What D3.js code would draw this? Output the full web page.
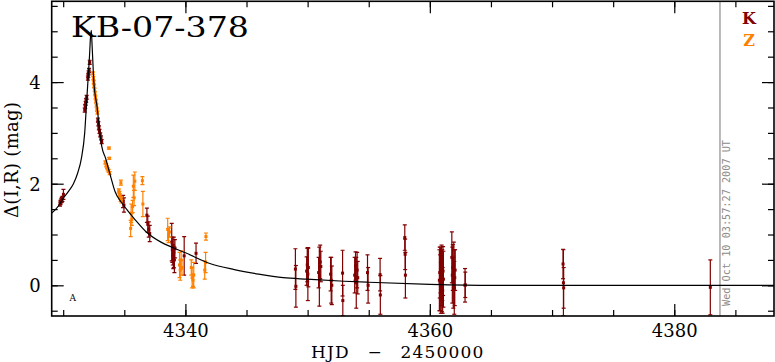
<!DOCTYPE html>
<html><head><meta charset="utf-8">
<script src="https://cdn.jsdelivr.net/npm/d3@7"></script>
<style>body{margin:0;background:#fff}svg{display:block}</style>
</head><body>
<svg id="c" width="775" height="362"></svg>
<script>
// ---------- DATA ----------
const titleText = "KB-07-378";
const xLabelText = "HJD \u2212 2450000";
const yLabelText = "\u0394(I,R) (mag)";
const stampText = "Wed Oct 10 03:57:27 2007 UT";
const seriesNames = ["K", "Z"];

const xMajorTicks = [4340, 4360, 4380];
const xTickLabels = ["4340", "4360", "4380"];
const xMinorTicks = [4330, 4335, 4340, 4345, 4350, 4355, 4360, 4365, 4370, 4375, 4380, 4385];
const yMajorTicks = [0, 2, 4];
const yTickLabels = ["0", "2", "4"];
const yMinorTicks = [-0.5, 0, 0.5, 1, 1.5, 2, 2.5, 3, 3.5, 4, 4.5, 5, 5.5];
const nowLineT = 4383.74;

// K (dark red)
const kT = [4329.74,4329.78,4329.83,4329.88,4329.94,4330.02,
  4331.76,4331.80,4331.84,4331.88,4331.92,4332.02,4332.05,4332.08,4332.11,4332.17,
  4332.84,4332.88,4332.92,4332.97,4333.03,4333.09,4333.15,
  4334.90,4334.97,4336.85,4336.92,4337.00,4337.08,
  4338.88,4338.93,4338.97,4339.01,4339.05,4339.10,4339.14,4339.90,4340.87,
  4349.00,4349.04,4349.92,4349.97,4350.02,4350.06,4350.90,4350.96,4351.03,4351.08,
  4351.88,4351.93,4351.98,4352.86,4352.88,4353.85,4353.92,4353.98,4354.05,4354.10,
  4354.90,4354.95,4355.93,4355.95,4357.95,4357.98,4358.00,
  4360.78,4360.81,4360.84,4360.87,4360.90,4360.93,4360.96,4360.99,4361.02,4361.05,4361.08,4361.11,
  4361.80,4361.84,4361.88,4361.92,4361.96,4362.00,4362.04,4362.07,
  4362.88,4362.90,4370.90,4370.93,4370.95,4382.95];
const kMag = [1.60,1.63,1.66,1.68,1.70,1.79,
  3.45,3.52,3.58,3.64,3.70,4.08,4.13,4.18,4.23,4.39,
  3.25,3.18,3.10,3.03,2.96,2.90,2.83,
  1.65,1.58,1.38,1.20,1.10,1.02,
  0.85,0.70,0.60,0.55,0.65,0.50,0.72,0.58,0.63,
  0.32,-0.02,0.28,0.40,0.22,0.35,0.25,0.17,0.46,0.37,
  0.22,0.10,0.00,0.24,-0.30,0.20,0.38,0.05,0.30,0.15,
  0.25,0.00,0.21,-0.19,0.94,0.61,0.20,
  0.10,0.25,0.05,0.30,-0.05,0.15,0.35,0.00,0.20,-0.10,0.28,0.12,
  0.55,0.20,0.35,0.05,0.40,-0.05,0.15,0.30,
  0.00,0.01,0.42,0.05,-0.05,-0.04];
const kErr = [0.04,0.04,0.04,0.05,0.05,0.10,
  0.04,0.04,0.04,0.04,0.04,0.04,0.04,0.04,0.04,0.04,
  0.04,0.04,0.04,0.04,0.04,0.04,0.04,
  0.12,0.14,0.14,0.16,0.15,0.16,
  0.37,0.25,0.20,0.22,0.30,0.25,0.18,0.38,0.20,
  0.40,0.41,0.28,0.33,0.52,0.38,0.30,0.58,0.33,0.30,
  0.33,0.45,0.38,0.45,0.30,0.35,0.28,0.50,0.35,0.32,
  0.35,0.35,0.32,0.38,0.25,0.30,0.45,
  0.60,0.50,0.55,0.45,0.50,0.55,0.44,0.52,0.50,0.45,0.48,0.55,
  0.50,0.55,0.45,0.50,0.45,0.52,0.55,0.40,
  0.33,0.25,0.29,0.65,0.40,0.54];

// Z (orange)
const zT = [4332.43,4332.47,4332.50,4332.53,4332.57,4332.60,4332.64,4332.68,4332.72,4332.76,4332.80,
  4333.45,4333.52,4333.58,4333.65,4333.72,4333.80,4333.74,4333.77,
  4334.55,4334.60,4334.65,4334.70,4334.76,4334.72,
  4335.52,4335.56,4335.62,4335.68,4335.74,4335.80,4335.86,4336.48,4336.52,
  4338.55,4338.62,4338.70,4339.52,4339.58,4339.65,4339.72,
  4340.48,4340.55,4340.62,4340.68,4341.58,4341.65,4341.68];
const zMag = [4.17,4.08,4.00,3.92,3.85,3.78,3.70,3.62,3.54,3.46,3.40,
  2.42,2.36,2.32,2.28,2.25,2.21,2.70,2.50,
  1.86,1.80,1.75,1.70,1.67,2.02,
  1.12,1.42,1.30,1.55,1.95,1.72,2.05,2.06,1.60,
  1.10,0.98,1.05,0.40,0.30,0.50,0.35,
  0.35,0.15,0.10,0.20,0.30,0.45,0.96];
const zErr = [0.03,0.03,0.03,0.03,0.03,0.03,0.03,0.03,0.03,0.03,0.03,
  0.03,0.03,0.03,0.03,0.03,0.03,0.02,0.02,
  0.04,0.05,0.05,0.05,0.05,0.05,
  0.16,0.18,0.12,0.12,0.22,0.15,0.18,0.08,0.25,
  0.22,0.14,0.10,0.25,0.20,0.18,0.15,
  0.15,0.20,0.12,0.25,0.18,0.20,0.07];

// model curve
const modelT = [4329.06,4329.4,4329.75,4330.0,4330.4,4330.84,4331.2,4331.49,4331.76,4331.89,4332.02,4332.15,
  4332.24,4332.3,4332.36,4332.51,4332.78,4333.0,4333.16,4333.47,4333.85,4334.25,4334.8,4335.34,4335.89,
  4336.8,4338,4339,4340,4342,4344,4346,4348,4350,4353,4355,4360,4365,4370,4388.16];
const modelMag = [1.42,1.50,1.61,1.71,1.84,2.0,2.22,2.5,3.0,3.5,4.0,4.5,
  4.9,5.02,4.75,4.0,3.5,3.0,2.73,2.5,2.17,1.84,1.62,1.45,1.29,
  1.05,0.85,0.74,0.64,0.43,0.31,0.22,0.15,0.12,0.08,0.06,0.02,0.0,0.0,0.0];

// ---------- LAYOUT ----------
const W = 775, H = 362;
const L = 51.7, R = 774, T = 1.3, B = 316;
const kColor = "#800000", zColor = "#ff8000";
const serif = "DejaVu Serif";

const x = d3.scaleLinear().domain([4329.06, 4388.16]).range([L, R]);
const y = d3.scaleLinear().domain([-0.604, 5.59]).range([B, T]);

const svg = d3.select("#c");
svg.append("rect").attr("width", W).attr("height", H).attr("fill", "#fff");
svg.append("defs").append("clipPath").attr("id", "clip")
  .append("rect").attr("x", L).attr("y", T).attr("width", R - L).attr("height", B - T);

// now line
svg.append("line").attr("x1", x(nowLineT)).attr("x2", x(nowLineT)).attr("y1", T).attr("y2", B)
  .attr("stroke", "#8c8c8c").attr("stroke-width", 1.2);

// timestamp
svg.append("text").attr("transform", `translate(${x(nowLineT) + 10.5},306) rotate(-90)`)
  .attr("font-family", "DejaVu Sans Mono").attr("font-size", 10).attr("fill", "#8c8c8c")
  .attr("textLength", 166).attr("lengthAdjust", "spacingAndGlyphs").text(stampText);

// series
function drawSeries(ts, ms, es, color) {
  const g = svg.append("g").attr("clip-path", "url(#clip)");
  ts.forEach((t, i) => {
    const cx = x(t), yTop = y(ms[i] + es[i]), yBot = y(ms[i] - es[i]), cy = y(ms[i]);
    g.append("line").attr("x1", cx).attr("x2", cx).attr("y1", yTop).attr("y2", yBot)
      .attr("stroke", color).attr("stroke-width", 1.2);
    [yTop, yBot].forEach(yy => g.append("line").attr("x1", cx - 2).attr("x2", cx + 2)
      .attr("y1", yy).attr("y2", yy).attr("stroke", color).attr("stroke-width", 1.2));
    g.append("rect").attr("x", cx - 1.5).attr("y", cy - 1.5).attr("width", 3).attr("height", 3)
      .attr("fill", color);
  });
}
drawSeries(kT, kMag, kErr, kColor);
drawSeries(zT, zMag, zErr, zColor);

// model
const line = d3.line().x((d, i) => x(modelT[i])).y(d => y(d)).curve(d3.curveMonotoneX);
svg.append("g").attr("clip-path", "url(#clip)").append("path")
  .attr("d", line(modelMag)).attr("fill", "none").attr("stroke", "#000").attr("stroke-width", 1.2);

// axes
function styleAxis(g) {
  g.select(".domain").remove();
  g.selectAll(".tick line").attr("stroke", "#000").attr("stroke-width", 1.2);
  g.selectAll(".tick text").attr("font-family", serif).attr("font-size", 18).attr("fill", "#000");
}
svg.append("g").attr("transform", `translate(0,${B})`)
  .call(d3.axisBottom(x).tickValues(xMinorTicks).tickSize(-6).tickFormat("")).call(styleAxis);
svg.append("g").attr("transform", `translate(0,${B})`)
  .call(d3.axisBottom(x).tickValues(xMajorTicks).tickSize(-12).tickPadding(8.5)
    .tickFormat((d, i) => xTickLabels[i])).call(styleAxis);
svg.append("g").attr("transform", `translate(0,${T})`)
  .call(d3.axisTop(x).tickValues(xMinorTicks).tickSize(-6).tickFormat("")).call(styleAxis);
svg.append("g").attr("transform", `translate(0,${T})`)
  .call(d3.axisTop(x).tickValues(xMajorTicks).tickSize(-12).tickFormat("")).call(styleAxis);
svg.append("g").attr("transform", `translate(${L},0)`)
  .call(d3.axisLeft(y).tickValues(yMinorTicks).tickSize(-6).tickFormat("")).call(styleAxis);
svg.append("g").attr("transform", `translate(${L},0)`)
  .call(d3.axisLeft(y).tickValues(yMajorTicks).tickSize(-12).tickPadding(11)
    .tickFormat((d, i) => yTickLabels[i])).call(styleAxis)
  .selectAll(".tick text").attr("dy", "0.36em");
svg.append("g").attr("transform", `translate(${R},0)`)
  .call(d3.axisRight(y).tickValues(yMinorTicks).tickSize(-6).tickFormat("")).call(styleAxis);
svg.append("g").attr("transform", `translate(${R},0)`)
  .call(d3.axisRight(y).tickValues(yMajorTicks).tickSize(-12).tickFormat("")).call(styleAxis);

// frame
svg.append("rect").attr("x", L).attr("y", T).attr("width", R - L).attr("height", B - T)
  .attr("fill", "none").attr("stroke", "#000").attr("stroke-width", 1.6);

// title
svg.append("text").attr("x", 71).attr("y", 37).attr("font-family", serif).attr("font-size", 28)
  .attr("textLength", 178).attr("lengthAdjust", "spacingAndGlyphs").attr("fill", "#000").text(titleText);

// legend
svg.append("text").attr("x", 749).attr("y", 24).attr("text-anchor", "middle")
  .attr("font-family", serif).attr("font-weight", "bold").attr("font-size", 16)
  .attr("fill", kColor).text(seriesNames[0]);
svg.append("text").attr("x", 749).attr("y", 45.7).attr("text-anchor", "middle")
  .attr("font-family", serif).attr("font-weight", "bold").attr("font-size", 16)
  .attr("fill", zColor).text(seriesNames[1]);

// axis labels
svg.append("text").attr("x", 311).attr("y", 357.5).attr("font-family", serif).attr("font-size", 17)
  .attr("letter-spacing", 1.2).attr("word-spacing", 11).attr("fill", "#000").text(xLabelText);
svg.append("text").attr("transform", "translate(17.5,160) rotate(-90)").attr("text-anchor", "middle")
  .attr("font-family", serif).attr("font-size", 18).attr("fill", "#000")
  .attr("textLength", 116).attr("lengthAdjust", "spacing").text(yLabelText);

// small marker label
svg.append("text").attr("x", 72.7).attr("y", 300.7).attr("text-anchor", "middle")
  .attr("font-family", serif).attr("font-size", 9).attr("fill", "#000").text("A");
</script>
</body></html>
